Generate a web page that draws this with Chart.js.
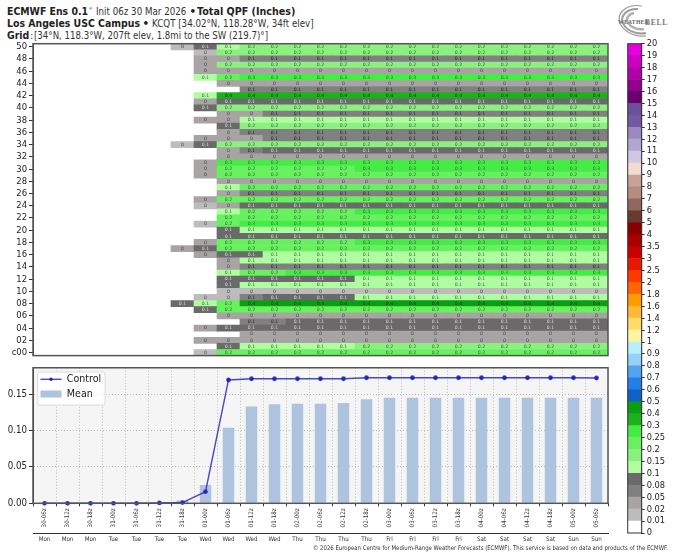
<!DOCTYPE html>
<html><head><meta charset="utf-8">
<script src="https://cdn.jsdelivr.net/npm/chart.js@4"></script>
<style>
html,body{margin:0;padding:0;background:#fff;width:680px;height:558px;overflow:hidden}
canvas{position:absolute;display:block}
.t{position:absolute;white-space:nowrap;font-family:"DejaVu Sans";color:#333;line-height:12px;font-size:10.4px;transform-origin:0 50%}
.t.b{font-weight:bold;color:#222}
#logo{position:absolute;left:604px;top:2px}
</style></head><body>
<div class="t b" data-r="88" style="left:7px;top:5px">ECMWF Ens 0.1</div>
<div class="t" style="left:89px;top:3.5px;font-size:6.5px">°</div>
<div class="t" data-r="186" style="left:95.7px;top:5px">Init 06z 30 Mar 2026</div>
<div class="t b" style="left:189.5px;top:5px">•</div>
<div class="t b" data-r="295.7" style="left:197.3px;top:5px">Total QPF (Inches)</div>
<div class="t b" data-r="140" style="left:7px;top:17px">Los Angeles USC Campus</div>
<div class="t b" style="left:142.5px;top:17px">•</div>
<div class="t" data-r="313.3" style="left:151.7px;top:17px">KCQT [34.02°N, 118.28°W, 34ft elev]</div>
<div class="t b" data-r="29.3" style="left:7px;top:28.7px">Grid</div>
<div class="t" style="left:30px;top:28.7px">:</div>
<div class="t" data-r="268.3" style="left:34.3px;top:28.7px">[34°N, 118.3°W, 207ft elev, 1.8mi to the SW (219.7)°]</div>
<svg id="logo" width="70" height="38">
<g fill="none" stroke="#9c9c9c">
<path d="M38 4 A21 15 12 1 0 42 34" stroke-width="1.2"/>
<path d="M34 7 A17 12 12 1 0 42 31" stroke-width="2"/>
<path d="M30 11 A12 8 12 1 0 40 27" stroke-width="2.4" stroke="#b0b0b0"/>
</g>
<text x="14" y="21.5" font-family="Liberation Serif" font-weight="bold" font-size="5.6" fill="#666" letter-spacing=".3">WEATHER</text>
<text x="41" y="22.5" font-family="Liberation Serif" font-weight="bold" font-size="7.6" fill="#777" letter-spacing=".7">BELL</text>
</svg>
<canvas id="heat" width="625" height="365" style="left:0;top:0"></canvas>
<canvas id="bar" width="60" height="520" style="left:620px;top:30px"></canvas>
<canvas id="ts" width="625" height="198" style="left:0;top:360px"></canvas>
<div class="t" data-r="668" style="left:313px;top:544px;font-size:6.4px;line-height:8px">© 2026 European Centre for Medium-Range Weather Forecasts (ECMWF). This service is based on data and products of the ECMWF.</div>
<script>
const validTimes = ['30-06z','30-12z','30-18z','31-00z','31-06z','31-12z','31-18z','01-00z','01-06z','01-12z','01-18z','02-00z','02-06z','02-12z','02-18z','03-00z','03-06z','03-12z','03-18z','04-00z','04-06z','04-12z','04-18z','05-00z','05-06z'];
const weekdays = ['Mon','Mon','Mon','Tue','Tue','Tue','Tue','Wed','Wed','Wed','Wed','Thu','Thu','Thu','Thu','Fri','Fri','Fri','Fri','Sat','Sat','Sat','Sat','Sun','Sun'];
const memberTicks = [0,2,4,6,8,10,12,14,16,18,20,22,24,26,28,30,32,34,36,38,40,42,44,46,48,50];
const memberTickLabels = ['c00','02','04','06','08','10','12','14','16','18','20','22','24','26','28','30','32','34','36','38','40','42','44','46','48','50'];
const _ = null;
// Member QPF in inches, row 0 = control (c00) ... row 50 = member 50
const memberQpf = [
[_,_,_,_,_,_,_,.015,.22,.22,.22,.22,.22,.22,.22,.22,.22,.22,.22,.22,.22,.22,.22,.22,.22],
[_,_,_,_,_,_,_,_,.09,.12,.12,.12,.12,.12,.17,.17,.17,.17,.17,.17,.17,.17,.17,.17,.17],
[_,_,_,_,_,_,_,.03,.03,.03,.03,.03,.03,.03,.03,.03,.03,.03,.03,.03,.03,.03,.03,.03,.03],
[_,_,_,_,_,_,_,_,_,.03,.03,.03,.03,.03,.03,.03,.03,.03,.03,.03,.03,.03,.03,.03,.03],
[_,_,_,_,_,_,_,.03,.09,.09,.09,.09,.09,.09,.09,.09,.09,.09,.09,.09,.09,.09,.09,.09,.09],
[_,_,_,_,_,_,_,_,_,.06,.06,.09,.09,.09,.09,.09,.09,.09,.09,.09,.09,.09,.09,.09,.09],
[_,_,_,_,_,_,_,_,.03,.03,.03,.03,.03,.03,.03,.03,.03,.03,.03,.03,.03,.03,.03,.03,.03],
[_,_,_,_,_,_,_,.09,.22,.22,.22,.22,.22,.22,.22,.22,.22,.22,.22,.22,.22,.22,.22,.22,.22],
[_,_,_,_,_,_,.09,.12,.22,.44,.44,.44,.44,.44,.44,.44,.44,.44,.44,.44,.44,.44,.44,.44,.44],
[_,_,_,_,_,_,_,.015,.015,.06,.09,.09,.09,.09,.12,.12,.12,.12,.12,.12,.12,.12,.12,.12,.12],
[_,_,_,_,_,_,_,_,.015,.015,.015,.015,.015,.015,.015,.015,.015,.015,.015,.015,.015,.015,.015,.015,.015],
[_,_,_,_,_,_,_,_,.09,.12,.12,.12,.12,.12,.12,.12,.12,.12,.12,.12,.12,.12,.12,.12,.12],
[_,_,_,_,_,_,_,_,.09,.09,.09,.09,.09,.09,.12,.12,.12,.12,.12,.12,.12,.12,.12,.12,.12],
[_,_,_,_,_,_,_,_,.12,.22,.22,.27,.27,.27,.27,.27,.27,.27,.27,.27,.27,.27,.27,.27,.27],
[_,_,_,_,_,_,_,_,.03,.06,.06,.06,.06,.06,.06,.06,.06,.06,.06,.06,.06,.06,.06,.06,.06],
[_,_,_,_,_,_,_,_,.03,.12,.12,.12,.12,.12,.12,.12,.12,.12,.12,.12,.12,.12,.12,.12,.12],
[_,_,_,_,_,_,_,.03,.09,.09,.12,.12,.12,.12,.12,.12,.12,.12,.12,.12,.12,.12,.12,.12,.12],
[_,_,_,_,_,_,.03,.09,.22,.22,.22,.22,.22,.22,.22,.22,.22,.22,.22,.22,.22,.22,.22,.22,.22],
[_,_,_,_,_,_,_,.03,.22,.22,.22,.22,.22,.22,.27,.27,.27,.27,.27,.27,.27,.27,.27,.27,.27],
[_,_,_,_,_,_,_,_,.09,.09,.09,.09,.09,.09,.09,.09,.09,.09,.09,.09,.09,.09,.09,.09,.09],
[_,_,_,_,_,_,_,_,.09,.12,.12,.12,.12,.12,.12,.12,.12,.12,.12,.12,.12,.12,.12,.12,.12],
[_,_,_,_,_,_,_,.015,.22,.27,.27,.27,.27,.27,.27,.27,.27,.27,.27,.27,.27,.27,.27,.27,.27],
[_,_,_,_,_,_,_,_,.22,.22,.22,.22,.22,.22,.22,.22,.22,.22,.22,.22,.22,.22,.22,.22,.22],
[_,_,_,_,_,_,_,_,.12,.22,.22,.22,.22,.22,.27,.27,.27,.27,.27,.27,.27,.27,.27,.27,.27],
[_,_,_,_,_,_,_,.015,.03,.09,.09,.09,.09,.09,.09,.09,.09,.09,.09,.09,.09,.09,.09,.09,.09],
[_,_,_,_,_,_,_,.03,.22,.22,.22,.22,.22,.22,.22,.22,.22,.22,.22,.22,.22,.22,.22,.22,.22],
[_,_,_,_,_,_,_,_,.03,.06,.06,.06,.06,.06,.06,.06,.06,.06,.06,.06,.06,.06,.06,.06,.06],
[_,_,_,_,_,_,_,_,.12,.22,.22,.22,.22,.22,.22,.22,.22,.22,.22,.22,.22,.22,.22,.22,.22],
[_,_,_,_,_,_,_,_,.03,.03,.03,.03,.03,.03,.03,.03,.03,.03,.03,.03,.03,.03,.03,.03,.03],
[_,_,_,_,_,_,_,.03,.22,.22,.22,.22,.22,.22,.22,.22,.22,.22,.22,.22,.22,.22,.22,.22,.22],
[_,_,_,_,_,_,_,.03,.22,.22,.22,.22,.22,.22,.27,.27,.27,.27,.27,.27,.27,.27,.27,.27,.27],
[_,_,_,_,_,_,_,.03,.27,.27,.27,.27,.27,.27,.27,.27,.27,.27,.27,.27,.27,.27,.27,.27,.27],
[_,_,_,_,_,_,_,_,.03,.03,.03,.03,.03,.03,.03,.03,.03,.03,.03,.03,.03,.03,.03,.03,.03],
[_,_,_,_,_,_,_,_,.03,.06,.09,.09,.09,.09,.09,.09,.09,.09,.09,.09,.09,.09,.09,.09,.09],
[_,_,_,_,_,_,.015,.09,.17,.17,.17,.17,.17,.17,.17,.17,.17,.17,.17,.17,.17,.17,.17,.17,.17],
[_,_,_,_,_,_,_,.03,.03,.03,.06,.06,.06,.06,.06,.06,.06,.06,.06,.06,.06,.06,.06,.06,.06],
[_,_,_,_,_,_,_,_,.03,.06,.06,.06,.06,.06,.06,.06,.06,.06,.06,.06,.06,.06,.06,.06,.06],
[_,_,_,_,_,_,_,_,.09,.17,.17,.17,.17,.17,.17,.17,.17,.17,.17,.17,.17,.17,.17,.17,.17],
[_,_,_,_,_,_,_,.03,.03,.12,.12,.12,.12,.12,.12,.12,.12,.12,.12,.12,.12,.12,.12,.12,.12],
[_,_,_,_,_,_,_,_,.03,.03,.06,.06,.06,.06,.06,.06,.06,.06,.06,.06,.06,.06,.06,.06,.06],
[_,_,_,_,_,_,_,.09,.17,.17,.17,.17,.17,.17,.17,.17,.17,.17,.17,.17,.17,.17,.17,.17,.17],
[_,_,_,_,_,_,_,.03,.09,.09,.09,.09,.09,.09,.09,.09,.09,.09,.09,.09,.09,.09,.09,.09,.09],
[_,_,_,_,_,_,_,.12,.36,.36,.36,.36,.36,.36,.36,.36,.36,.36,.36,.36,.36,.36,.36,.36,.36],
[_,_,_,_,_,_,_,_,_,.06,.06,.06,.06,.06,.06,.06,.06,.06,.06,.06,.06,.06,.06,.06,.06],
[_,_,_,_,_,_,_,_,.03,.03,.03,.03,.03,.03,.03,.03,.03,.03,.03,.03,.03,.03,.03,.03,.03],
[_,_,_,_,_,_,_,.12,.22,.27,.27,.27,.27,.27,.27,.27,.27,.27,.27,.27,.27,.27,.27,.27,.27],
[_,_,_,_,_,_,_,.03,.03,.03,.03,.03,.03,.03,.03,.03,.03,.03,.03,.03,.03,.03,.03,.03,.03],
[_,_,_,_,_,_,_,.03,.17,.17,.17,.17,.17,.17,.17,.17,.17,.17,.17,.17,.17,.17,.17,.17,.17],
[_,_,_,_,_,_,_,.03,.03,.06,.06,.06,.06,.06,.06,.06,.06,.06,.06,.06,.06,.06,.06,.06,.06],
[_,_,_,_,_,_,_,.015,.17,.17,.17,.17,.17,.17,.17,.17,.17,.17,.17,.17,.17,.17,.17,.17,.17],
[_,_,_,_,_,_,.015,.09,.12,.17,.17,.17,.17,.17,.17,.17,.17,.17,.17,.17,.17,.17,.17,.17,.17]
];
const controlSeries = [0,0,0,0,0,0.0005,0.001,0.016,0.1695,0.1712,0.1712,0.1712,0.1712,0.1712,0.1726,0.1726,0.1726,0.1726,0.1726,0.1726,0.1726,0.1726,0.1726,0.1726,0.1722];
const meanSeries = [0,0,0,0,0,0.0003,0.004,0.025,0.104,0.133,0.136,0.137,0.137,0.138,0.143,0.145,0.145,0.145,0.145,0.145,0.145,0.145,0.145,0.145,0.145];
const tsTicks = [0,0.05,0.1,0.15];
const colorEdges = [0,0.01,0.02,0.05,0.08,0.1,0.15,0.2,0.25,0.3,0.4,0.5,0.6,0.7,0.8,0.9,1,1.2,1.4,1.6,1.8,2,2.5,3,3.5,4,5,6,7,8,9,10,11,12,13,14,15,16,17,18,19,20];
const colorEdgeLabels = ['0','0.01','0.02','0.05','0.08','0.1','0.15','0.2','0.25','0.3','0.4','0.5','0.6','0.7','0.8','0.9','1','1.2','1.4','1.6','1.8','2','2.5','3','3.5','4','5','6','7','8','9','10','11','12','13','14','15','16','17','18','19','20'];
const colorBins = ['#ffffff','#bcbcbc','#a8a4a4','#808080','#6a6a6a','#b0fca0','#8cf080','#68f060','#46ec46','#1eb01e','#0c9e12','#1060c8','#2080e8','#50a4f0','#96d0fa','#b8f0fa','#fff4a4','#ffdc6a','#ffb83a','#ff9c00','#ff6600','#ff3800','#e81800','#c80000','#a80000','#8a0000','#6a3a30','#906860','#b48c80','#c8a298','#f0dcd0','#d0c8e2','#b2a6d0','#9e88c2','#7458a4','#6a5096','#6c0070','#930090','#b000a8','#cc00c0','#e600e0'];

// Fit each text run to the extent it has in the reference
document.querySelectorAll('.t[data-r]').forEach(el=>{
  const left=parseFloat(el.style.left), target=parseFloat(el.dataset.r)-left;
  el.style.transform='scaleX('+(target/el.getBoundingClientRect().width)+')';
});

const condensed = '"DejaVu Sans Condensed","DejaVu Sans"';
const axisColor = '#333';
const binColor = v => {
  let i = colorEdges.findIndex((e,k)=> v>=e && v<colorEdges[k+1]);
  return colorBins[Math.max(i,0)];
};
const cellText = v => v<0.05 ? '#444' : v<0.08 ? '#222' : v<0.1 ? '#ddd' : v<0.3 ? '#2a6a2a' : '#0a3a0a';
const frame = (color,width) => ({
  id:'frame',
  afterDraw(c){
    const a=c.chartArea,x=c.ctx;
    x.save();x.strokeStyle=color;x.lineWidth=width;
    x.strokeRect(a.left,a.top,a.right-a.left,a.bottom-a.top);
    x.restore();
  }
});
const pinWidth = w => s => { s.width = w; };

new Chart(document.getElementById('heat'),{
  type:'bar',
  data:{
    labels:validTimes,
    datasets:memberQpf.map((row,r)=>({
      label:memberTickLabels[r/2]||String(r),
      data:row.map(v=> v===null?null:[r-0.5,r+0.5]),
      backgroundColor:row.map(v=> v===null?'rgba(0,0,0,0)':binColor(v)),
      borderWidth:0,barPercentage:1,categoryPercentage:1,grouped:false
    }))
  },
  options:{
    responsive:false,animation:false,
    layout:{padding:{left:0,top:43.7,right:17,bottom:9.4}},
    plugins:{legend:{display:false},tooltip:{enabled:false}},
    scales:{
      x:{display:false,offset:true,grid:{display:false}},
      y:{
        min:-0.5,max:50.5,
        afterBuildTicks:s=>{s.ticks=memberTicks.map(v=>({value:v}));},
        afterFit:pinWidth(33),
        grid:{drawOnChartArea:false,tickLength:4,tickColor:axisColor},
        border:{color:axisColor},
        ticks:{autoSkip:false,padding:2,color:'#222',font:{family:condensed,size:9.4},
          callback:v=>memberTickLabels[memberTicks.indexOf(v)]}
      }
    }
  },
  plugins:[{
    id:'cellLabels',
    afterDatasetsDraw(c){
      const x=c.ctx,sx=c.scales.x,sy=c.scales.y;
      x.save();x.textAlign='center';x.textBaseline='middle';
      x.font='4.6px "DejaVu Sans"';
      memberQpf.forEach((row,r)=>row.forEach((v,i)=>{
        if(v===null)return;
        x.fillStyle=cellText(v);
        x.fillText(String(Number(v.toFixed(1))),sx.getPixelForValue(i),sy.getPixelForValue(r));
      }));
      x.restore();
    }
  },frame('#555',1.5)]
});

new Chart(document.getElementById('bar'),{
  type:'bar',
  data:{
    labels:['QPF'],
    datasets:colorBins.map((col,i)=>({
      label:colorEdgeLabels[i],
      data:[[i,i+1]],
      backgroundColor:col,borderWidth:0,barPercentage:1,categoryPercentage:1,grouped:false
    }))
  },
  options:{
    responsive:false,animation:false,
    layout:{padding:{left:7.7,top:13.7,right:0,bottom:17}},
    plugins:{legend:{display:false},tooltip:{enabled:false}},
    scales:{
      x:{display:false,offset:true,grid:{display:false}},
      y:{
        position:'right',min:0,max:colorBins.length,
        afterBuildTicks:s=>{s.ticks=colorEdges.map((e,i)=>({value:i}));},
        afterFit:pinWidth(38.3),
        grid:{drawOnChartArea:false,tickLength:3,tickColor:axisColor},
        border:{color:axisColor},
        ticks:{autoSkip:false,padding:2,color:'#222',font:{family:condensed,size:9.2},
          callback:v=>colorEdgeLabels[v]}
      }
    }
  },
  plugins:[frame('#333',1)]
});

const barBlue='#aec4de', lineBlue='rgba(40,40,190,.85)';
new Chart(document.getElementById('ts'),{
  type:'bar',
  data:{
    labels:validTimes,
    datasets:[
      {type:'line',label:'Control',data:controlSeries,borderColor:lineBlue,backgroundColor:'#2020c0',borderWidth:1.4,pointRadius:1.7,pointHoverRadius:1.7,tension:0,order:0,clip:false},
      {type:'bar',label:'Mean',data:meanSeries,backgroundColor:barBlue,borderWidth:0,barPercentage:0.5,categoryPercentage:1,order:1}
    ]
  },
  options:{
    responsive:false,animation:false,
    layout:{padding:{left:0,top:6.7,right:17,bottom:9.7}},
    plugins:{
      tooltip:{enabled:false},
      legend:{
        position:'chartArea',align:'start',
        labels:{
          boxWidth:21,boxHeight:7,padding:4,color:'#222',
          font:{family:condensed,size:10.6,lineHeight:1},
          generateLabels:c=>c.data.datasets.map((d,i)=>({
            text:d.label,datasetIndex:i,lineWidth:0,fontColor:'#222',
            strokeStyle:'rgba(0,0,0,0)',
            fillStyle:d.type==='bar'?barBlue:'rgba(0,0,0,0)'
          }))
        }
      }
    },
    scales:{
      x:{
        offset:true,
        afterFit:s=>{s.height=30;},
        grid:{color:'#bdbdbd',tickLength:3,tickColor:axisColor},
        border:{color:axisColor,dash:[1,2]},
        ticks:{autoSkip:false,maxRotation:90,minRotation:90,padding:2,color:'#333',font:{family:condensed,size:6.2}}
      },
      x2:{
        type:'category',position:'bottom',labels:weekdays,offset:true,
        afterFit:s=>{s.height=15;},
        grid:{drawOnChartArea:false,drawTicks:false},
        border:{color:axisColor,width:1},
        ticks:{autoSkip:false,maxRotation:0,minRotation:0,padding:2,color:'#333',font:{family:condensed,size:6.2}}
      },
      y:{
        min:0,max:0.1863,
        afterBuildTicks:s=>{s.ticks=tsTicks.map(v=>({value:v}));},
        afterFit:pinWidth(33),
        grid:{color:'#bdbdbd',tickLength:4,tickColor:axisColor},
        border:{color:axisColor,dash:[1,2]},
        ticks:{padding:2,color:'#222',font:{family:condensed,size:9.6},callback:v=>v.toFixed(2)}
      }
    }
  },
  plugins:[{
    id:'plotBackground',
    beforeDraw(c){
      const a=c.chartArea,x=c.ctx;
      x.save();x.fillStyle='#f5f5f5';x.fillRect(a.left,a.top,a.right-a.left,a.bottom-a.top);x.restore();
    }
  },{
    id:'legendFrame',
    afterLayout(c){
      const lg=c.legend;
      if(lg._wrapped)return;
      lg._wrapped=true;
      const draw=lg.draw;
      lg.draw=function(){
        const x=c.ctx;
        x.save();
        x.beginPath();x.roundRect(37.7,12,67.3,33,2);
        x.fillStyle='rgba(255,255,255,.85)';x.fill();
        x.strokeStyle='#dcdcdc';x.lineWidth=1;x.stroke();
        x.translate(3.5,10);
        draw.call(this);
        const h=this.legendHitBoxes[0],y=h.top+h.height/2;
        x.strokeStyle=lineBlue;x.lineWidth=1.4;
        x.beginPath();x.moveTo(h.left,y);x.lineTo(h.left+21,y);x.stroke();
        x.fillStyle='#2020c0';x.beginPath();x.arc(h.left+10.5,y,1.7,0,Math.PI*2);x.fill();
        x.restore();
      };
    }
  },frame('#555',1.5)]
});
</script>
</body></html>
